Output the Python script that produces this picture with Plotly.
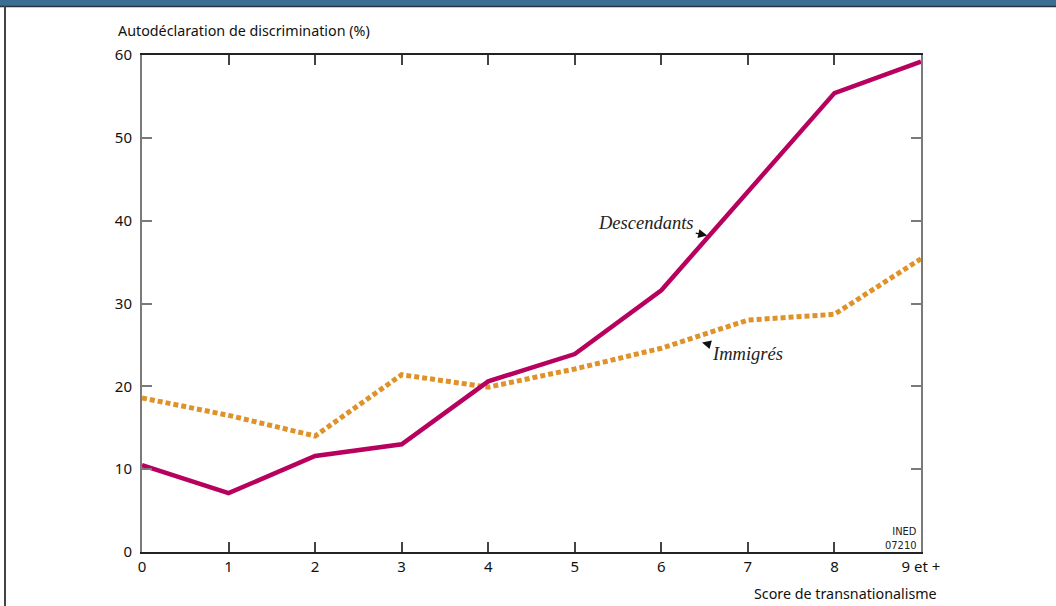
import plotly.graph_objects as go

# Data
scores = [0, 1, 2, 3, 4, 5, 6, 7, 8, 9]
tick_labels = ["0", "1", "2", "3", "4", "5", "6", "7", "8", "9 et +"]
descendants = [10.5, 7.1, 11.6, 13.0, 20.6, 23.9, 31.6, 43.6, 55.4, 59.2]
immigres = [18.6, 16.5, 14.0, 21.4, 19.9, 22.1, 24.6, 28.0, 28.7, 35.4]

W, H = 1056, 606
L, R, T, B = 142, 135, 55, 54
pw, ph = W - L - R, H - T - B

def px(x):
    return (x - L) / pw

def py(y):
    return (H - B - y) / ph

SANS = "Noto Sans, Liberation Sans, sans-serif"

fig = go.Figure()
fig.add_trace(go.Scatter(
    x=scores, y=immigres, mode="lines", name="Immigrés",
    line=dict(color="#E0922A", width=5, dash="5px,3px"),
    hoverinfo="x+y",
))
fig.add_trace(go.Scatter(
    x=scores, y=descendants, mode="lines", name="Descendants",
    line=dict(color="#B8005E", width=4.5),
    hoverinfo="x+y",
))

fig.update_layout(
    width=W, height=H,
    margin=dict(l=L, r=R, t=T, b=B, pad=0),
    paper_bgcolor="white", plot_bgcolor="white",
    showlegend=False,
    font=dict(family=SANS, color="#111", size=15),
    xaxis=dict(
        range=[0, 9], tickvals=scores, ticktext=tick_labels,
        showgrid=False, zeroline=False,
        showline=True, linecolor="#222", linewidth=1.5, mirror="ticks",
        ticks="inside", ticklen=10, tickcolor="#444", tickwidth=1.5,
        tickfont=dict(size=15, family=SANS, color="#111"),
        fixedrange=True,
    ),
    yaxis=dict(
        range=[0, 60], tickvals=[0, 10, 20, 30, 40, 50, 60],
        showgrid=False, zeroline=False,
        showline=True, linecolor="#7a7a7a", linewidth=2, mirror="ticks",
        ticks="inside", ticklen=10, tickcolor="#7a7a7a", tickwidth=1.5,
        tickfont=dict(size=15, family=SANS, color="#111"),
        ticklabelstandoff=5,
        fixedrange=True,
    ),
    shapes=[
        dict(type="rect", xref="paper", yref="paper",
             x0=px(0), x1=px(W), y0=py(6), y1=py(0),
             fillcolor="#3A6E93", line=dict(width=0), layer="above"),
        dict(type="line", xref="paper", yref="paper",
             x0=px(0), x1=px(W), y0=py(6.5), y1=py(6.5),
             line=dict(color="#2a3440", width=1.5)),
        dict(type="line", xref="paper", yref="paper",
             x0=px(5), x1=px(5), y0=py(6), y1=py(H),
             line=dict(color="#444", width=2)),
    ],
    annotations=[
        dict(text="Autodéclaration de discrimination (%)", xref="paper", yref="paper",
             x=px(116), y=py(30), xanchor="left", yanchor="middle",
             showarrow=False, font=dict(size=14.3, family=SANS, color="#111")),
        dict(text="Score de transnationalisme", xref="paper", yref="paper",
             x=px(939), y=py(593), xanchor="right", yanchor="middle",
             showarrow=False, font=dict(size=14.3, family=SANS, color="#111")),
        dict(text="INED<br>07210", xref="paper", yref="paper",
             x=px(919), y=py(538), xanchor="right", yanchor="middle",
             align="right", showarrow=False,
             font=dict(size=11, family="DejaVu Sans Condensed, Liberation Sans Narrow, sans-serif", color="#222")),
        dict(text="<i>Descendants</i>", x=6.53, y=38.2, xref="x", yref="y",
             ax=-61, ay=-13, axref="pixel", ayref="pixel",
             showarrow=True, arrowhead=2, arrowsize=1.5, arrowwidth=1.2, arrowcolor="#111",
             standoff=0, startstandoff=0,
             font=dict(size=18.5, family="Liberation Serif, Times New Roman, serif", color="#222")),
        dict(text="<i>Immigrés</i>", x=6.47, y=25.3, xref="x", yref="y",
             ax=45, ay=12, axref="pixel", ayref="pixel",
             showarrow=True, arrowhead=2, arrowsize=1.5, arrowwidth=1.2, arrowcolor="#111",
             standoff=0, startstandoff=0,
             font=dict(size=18.5, family="Liberation Serif, Times New Roman, serif", color="#222")),
    ],
)

fig.write_html("out.html", config={"displayModeBar": False},
               post_script="document.body.style.margin='0';document.body.style.overflow='hidden';")
